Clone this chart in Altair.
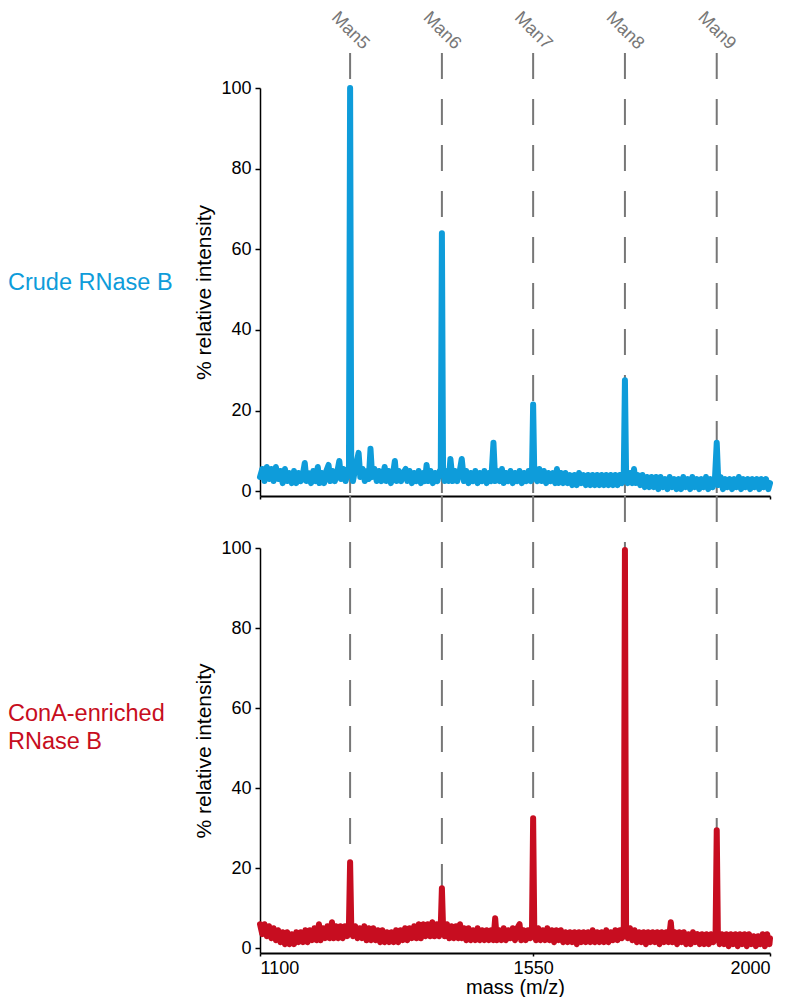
import altair as alt
import pandas as pd

# ---------------- data ----------------
glycan_names = ["Man5", "Man6", "Man7", "Man8", "Man9"]
glycan_mz = [1259, 1421, 1582, 1744, 1906]

sample_names = ["Crude RNase B", "ConA-enriched\nRNase B"]

x_tick_values = [1100, 1582, 2000]
x_tick_labels = ["1100", "1550", "2000"]

crude_mz = [1100, 1104, 1108, 1112, 1116, 1120, 1124, 1128, 1132, 1136, 1140, 1144, 1148, 1152, 1156, 1160,
            1164, 1168, 1172, 1176, 1179, 1182, 1186, 1190, 1194, 1198, 1202, 1205, 1209, 1213, 1217, 1221,
            1224, 1228, 1232, 1236, 1240, 1243, 1247, 1251, 1255, 1257, 1259, 1261, 1264, 1268, 1274, 1277,
            1281, 1285, 1289, 1292, 1295, 1298, 1302, 1306, 1310, 1314, 1318, 1320, 1323, 1327, 1331, 1335,
            1338, 1341, 1345, 1349, 1353, 1357, 1360, 1364, 1368, 1372, 1376, 1380, 1384, 1388, 1391, 1394,
            1397, 1401, 1405, 1409, 1413, 1417, 1419, 1421, 1423, 1426, 1430, 1433, 1436, 1440, 1444, 1448,
            1452, 1456, 1460, 1464, 1468, 1472, 1476, 1480, 1484, 1488, 1492, 1496, 1500, 1504, 1508, 1512,
            1515, 1519, 1523, 1527, 1530, 1534, 1538, 1542, 1546, 1550, 1554, 1558, 1562, 1566, 1570, 1574,
            1578, 1580, 1582, 1584, 1589, 1593, 1597, 1601, 1605, 1609, 1613, 1617, 1621, 1624, 1627, 1631,
            1635, 1639, 1643, 1647, 1651, 1655, 1659, 1663, 1667, 1671, 1675, 1679, 1683, 1687, 1691, 1695,
            1699, 1703, 1707, 1711, 1715, 1719, 1723, 1727, 1731, 1735, 1739, 1742, 1744, 1746, 1749, 1753,
            1757, 1760, 1763, 1767, 1771, 1775, 1779, 1783, 1787, 1791, 1795, 1799, 1803, 1807, 1811, 1815,
            1819, 1823, 1827, 1831, 1835, 1839, 1843, 1847, 1851, 1855, 1859, 1863, 1867, 1871, 1875, 1879,
            1883, 1887, 1891, 1895, 1899, 1903, 1906, 1909, 1913, 1917, 1921, 1925, 1929, 1933, 1937, 1941,
            1945, 1949, 1953, 1957, 1961, 1965, 1969, 1973, 1977, 1981, 1985, 1989, 1993, 1997, 2000]
crude_int = [3.5, 5.5, 2.5, 6.0, 3.0, 5.5, 2.5, 6.0, 3.0, 5.0, 2.0, 5.5, 2.5, 4.5, 2.0, 5.0,
             2.0, 4.5, 2.5, 4.5, 7.0, 2.5, 4.5, 2.0, 5.0, 2.5, 6.0, 2.0, 4.5, 2.0, 5.0, 6.5,
             2.5, 5.0, 2.5, 4.5, 7.5, 3.0, 5.5, 2.5, 4.5, 6.0, 100.0, 5.5, 2.5, 5.5, 9.5, 3.5,
             5.5, 2.5, 5.0, 3.0, 10.5, 3.5, 5.5, 2.5, 5.0, 2.5, 4.5, 6.0, 2.5, 5.0, 2.0, 4.5,
             7.5, 2.5, 5.0, 2.5, 4.5, 5.5, 2.5, 5.0, 2.0, 4.5, 2.5, 5.0, 2.0, 4.5, 2.5, 6.5,
             2.5, 5.0, 2.0, 4.5, 2.5, 5.0, 5.0, 64.0, 5.5, 2.5, 5.0, 2.5, 8.0, 2.5, 5.0, 2.5,
             4.5, 8.0, 2.5, 5.0, 2.0, 4.5, 2.5, 5.0, 2.0, 4.5, 2.5, 5.0, 2.0, 4.5, 2.5, 12.0,
             2.5, 5.0, 2.5, 5.5, 2.0, 4.5, 2.5, 5.0, 2.0, 4.5, 2.5, 5.0, 2.0, 4.5, 2.5, 5.0,
             2.5, 4.5, 21.5, 4.5, 2.5, 5.5, 2.5, 5.0, 2.0, 4.5, 2.5, 4.5, 2.0, 5.5, 2.0, 4.5,
             2.0, 4.5, 2.0, 4.0, 1.5, 4.0, 1.5, 4.5, 2.0, 4.0, 1.5, 4.0, 1.5, 4.0, 1.5, 4.0,
             1.5, 4.0, 1.5, 4.0, 1.5, 4.0, 1.5, 4.0, 1.5, 4.0, 2.0, 4.5, 27.5, 4.5, 2.0, 4.5,
             2.0, 5.5, 2.0, 4.0, 1.5, 4.0, 1.0, 3.5, 1.0, 3.5, 1.0, 3.5, 0.5, 3.5, 1.0, 3.0,
             0.5, 3.5, 1.0, 3.0, 0.5, 3.0, 0.5, 3.5, 1.0, 3.0, 0.5, 3.5, 1.0, 3.0, 0.5, 3.0,
             1.0, 3.5, 0.5, 3.0, 1.0, 3.5, 12.0, 1.5, 3.5, 0.5, 3.0, 1.0, 3.0, 0.5, 3.0, 1.0,
             3.5, 0.5, 3.0, 1.0, 3.0, 0.5, 3.0, 1.0, 3.0, 0.5, 3.0, 1.0, 3.0, 0.5, 2.0]

cona_mz = [1100, 1104, 1108, 1112, 1116, 1120, 1124, 1128, 1132, 1136, 1140, 1144, 1148, 1152, 1156, 1160,
           1164, 1168, 1172, 1176, 1180, 1184, 1188, 1192, 1196, 1200, 1204, 1207, 1211, 1215, 1219, 1223,
           1227, 1230, 1234, 1238, 1242, 1246, 1250, 1254, 1257, 1259, 1261, 1264, 1268, 1272, 1276, 1280,
           1284, 1288, 1292, 1296, 1300, 1304, 1308, 1312, 1316, 1320, 1324, 1328, 1332, 1336, 1340, 1344,
           1348, 1352, 1356, 1360, 1364, 1368, 1372, 1376, 1380, 1384, 1388, 1392, 1396, 1400, 1404, 1408,
           1412, 1416, 1419, 1421, 1423, 1426, 1430, 1434, 1438, 1442, 1446, 1450, 1453, 1456, 1460, 1464,
           1468, 1472, 1476, 1480, 1484, 1488, 1492, 1496, 1500, 1504, 1508, 1512, 1515, 1518, 1522, 1526,
           1530, 1534, 1538, 1542, 1546, 1550, 1554, 1558, 1561, 1565, 1569, 1573, 1577, 1580, 1582, 1584,
           1587, 1591, 1595, 1599, 1603, 1607, 1611, 1615, 1619, 1623, 1627, 1631, 1635, 1639, 1643, 1647,
           1651, 1655, 1659, 1663, 1667, 1671, 1675, 1679, 1683, 1687, 1691, 1695, 1699, 1703, 1707, 1711,
           1715, 1719, 1723, 1727, 1731, 1735, 1739, 1742, 1744, 1746, 1749, 1753, 1757, 1761, 1765, 1769,
           1773, 1777, 1781, 1785, 1789, 1793, 1797, 1801, 1805, 1809, 1813, 1817, 1821, 1825, 1828, 1832,
           1836, 1840, 1844, 1848, 1852, 1856, 1860, 1864, 1868, 1872, 1876, 1880, 1884, 1888, 1892, 1896,
           1900, 1904, 1906, 1908, 1911, 1915, 1919, 1923, 1927, 1931, 1935, 1939, 1943, 1947, 1951, 1955,
           1959, 1963, 1967, 1971, 1975, 1979, 1983, 1987, 1991, 1995, 1999, 2000]
cona_int = [6.0, 3.5, 6.0, 3.0, 5.5, 2.5, 5.0, 2.0, 4.5, 1.5, 4.0, 1.0, 4.0, 1.0, 3.5, 1.0,
            4.0, 1.5, 4.0, 1.5, 4.5, 1.5, 4.5, 2.0, 5.0, 2.0, 6.0, 2.0, 5.0, 2.5, 5.5, 2.5,
            6.5, 2.5, 5.5, 2.5, 5.5, 2.5, 5.5, 3.0, 6.0, 21.5, 6.0, 3.0, 5.5, 2.5, 5.0, 2.5,
            5.5, 2.0, 5.0, 2.0, 5.0, 2.0, 4.5, 1.5, 4.5, 1.5, 4.0, 1.5, 4.0, 1.5, 4.5, 1.5,
            4.5, 2.0, 5.0, 2.0, 5.0, 2.5, 5.5, 2.5, 6.0, 2.5, 6.0, 3.0, 6.0, 3.0, 6.5, 3.0,
            6.0, 3.0, 5.5, 15.0, 5.5, 3.0, 6.0, 2.5, 5.5, 2.5, 5.5, 2.5, 6.0, 2.5, 5.0, 2.0,
            5.0, 2.0, 4.5, 2.0, 5.0, 2.0, 4.5, 2.0, 4.5, 2.0, 4.5, 2.0, 7.5, 2.0, 4.5, 2.0,
            5.0, 2.0, 4.5, 2.5, 5.0, 2.0, 5.0, 6.0, 2.0, 4.5, 2.0, 4.5, 2.5, 5.0, 32.5, 5.0,
            2.0, 5.0, 2.0, 4.5, 2.0, 5.0, 2.0, 4.5, 1.5, 4.5, 2.0, 4.5, 1.5, 4.0, 1.5, 4.0,
            1.5, 4.0, 1.0, 4.0, 1.5, 4.0, 1.5, 4.0, 1.5, 4.5, 1.5, 4.0, 1.5, 4.0, 1.5, 4.5,
            1.5, 4.0, 2.0, 4.5, 2.0, 4.5, 2.5, 5.5, 99.5, 5.5, 2.5, 5.0, 2.0, 4.5, 1.5, 4.0,
            1.5, 4.0, 1.0, 4.0, 1.5, 4.0, 1.5, 4.0, 1.0, 4.0, 1.5, 4.0, 1.5, 6.5, 1.5, 4.0,
            1.0, 4.0, 1.5, 4.0, 1.0, 3.5, 1.0, 4.0, 1.5, 3.5, 1.0, 3.5, 1.0, 3.5, 1.0, 3.5,
            1.5, 4.0, 29.5, 4.0, 1.0, 3.5, 1.0, 3.5, 0.5, 3.5, 1.0, 3.5, 0.5, 3.5, 1.0, 3.5,
            0.5, 3.5, 1.0, 3.0, 0.5, 3.0, 1.0, 3.5, 0.5, 3.5, 1.0, 2.5]

# ---------------- styling ----------------
BLUE = "#0e9cda"
RED = "#c70d20"
GRAY = "#777777"
FONT = "Liberation Sans"
W = 510
H1 = 408
H2 = 405

crude_df = pd.DataFrame({"mz": crude_mz, "intensity": crude_int})
cona_df = pd.DataFrame({"mz": cona_mz, "intensity": cona_int})
glycan_df = pd.DataFrame({"mz": glycan_mz, "name": glycan_names})

xscale = alt.Scale(domain=[1100, 2000], nice=False, zero=False)
yscale = alt.Scale(domain=[-1.2, 100], nice=False, zero=False)

yaxis = alt.Axis(values=[0, 20, 40, 60, 80, 100], title="% relative intensity", grid=False,
                 labelFontSize=18, titleFontSize=21, titleFontWeight="normal", labelColor="black",
                 titleColor="black", domainColor="black", tickColor="black", domainWidth=1.5,
                 tickWidth=1.5, tickSize=5, labelPadding=4, titlePadding=6, labelFont=FONT, titleFont=FONT)

label_map = "{" + ", ".join(f"'{v}': '{l}'" for v, l in zip(x_tick_values, x_tick_labels)) + "}"

xaxis_top = alt.Axis(values=[1100, 2000], labels=False, title=None, grid=False, domainColor="black",
                     domainWidth=2, tickColor="black", tickSize=3, tickWidth=1.5)
xaxis_bottom = alt.Axis(values=x_tick_values, labelExpr=f"{label_map}[datum.value + '']",
                        title="mass (m/z)", grid=False, domainColor="black", domainWidth=2,
                        tickColor="black", tickSize=3, tickWidth=1.5, labelFontSize=18, titleFontSize=20,
                        titleFontWeight="normal", labelColor="black", titleColor="black",
                        labelPadding=3, titlePadding=0, labelFont=FONT, titleFont=FONT)


def panel(df, color, height, xaxis, rule_top, sample, label_y, with_names):
    rules = alt.Chart(glycan_df).mark_rule(color=GRAY, strokeWidth=2, strokeDash=[26, 20], clip=False).encode(
        x=alt.X("mz:Q", scale=xscale, axis=xaxis),
        y=alt.value(rule_top),
        y2=alt.value(height),
    )
    line = alt.Chart(df).mark_line(color=color, strokeWidth=6, strokeJoin="round", strokeCap="round").encode(
        x=alt.X("mz:Q", scale=xscale, axis=xaxis),
        y=alt.Y("intensity:Q", scale=yscale, axis=yaxis),
    )
    side = alt.Chart(pd.DataFrame({"label": [sample]})).mark_text(
        align="left", baseline="middle", fontSize=23.5, font=FONT, color=color, lineBreak="\n", lineHeight=28
    ).encode(x=alt.value(-252), y=alt.value(label_y), text="label:N")
    layers = [rules, line, side]
    if with_names:
        names = alt.Chart(glycan_df).mark_text(
            angle=45, align="center", baseline="middle", fontSize=18, font=FONT, color=GRAY
        ).encode(x=alt.X("mz:Q", scale=xscale), y=alt.value(-57), text="name:N")
        layers.append(names)
    return alt.layer(*layers).properties(width=W, height=height)


top = panel(crude_df, BLUE, H1, xaxis_top, -35, sample_names[0], 195, True)
bottom = panel(cona_df, RED, H2, xaxis_bottom, -52, sample_names[1], 166, False)

chart = alt.vconcat(top, bottom, spacing=52, bounds="flush").properties(padding=0).configure(
    font=FONT, view=alt.ViewConfig(strokeWidth=0, stroke="transparent")
)

chart.save("out.html", embed_options={"renderer": "svg", "actions": False})
